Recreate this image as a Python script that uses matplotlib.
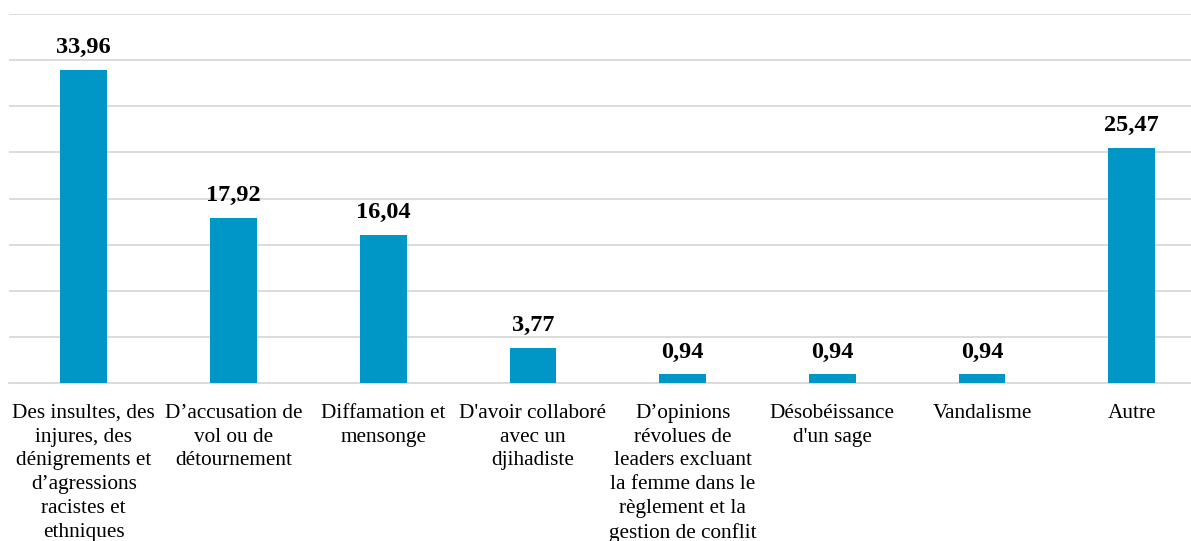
import matplotlib
matplotlib.use("Agg")
import matplotlib.pyplot as plt

categories = [
    "Des insultes, des\ninjures, des\ndénigrements et\nd’agressions\nracistes et\nethniques",
    "D’accusation de\nvol ou de\ndétournement",
    "Diffamation et\nmensonge",
    "D'avoir collaboré\navec un\ndjihadiste",
    "D’opinions\nrévolues de\nleaders excluant\nla femme dans le\nrèglement et la\ngestion de conflit",
    "Désobéissance\nd'un sage",
    "Vandalisme",
    "Autre",
]
values = [33.96, 17.92, 16.04, 3.77, 0.94, 0.94, 0.94, 25.47]
value_labels = ["33,96", "17,92", "16,04", "3,77", "0,94", "0,94", "0,94", "25,47"]

plt.rcParams['font.family'] = ['Liberation Serif', 'DejaVu Serif']

fig = plt.figure(figsize=(11.91, 5.41), dpi=100)
ax = fig.add_axes([8.95 / 1191, 0.292, 1197.6 / 1191, 0.682])

x = list(range(len(categories)))
ax.bar(x, values, width=0.312, color='#0096C6', zorder=3)
for xi, v, lab in zip(x, values, value_labels):
    ax.annotate(lab, (xi, v), xytext=(0, 8.5), textcoords='offset points',
                ha='center', va='bottom', fontsize=17.5, fontweight='bold', color='black')

ax.set_xlim(-0.5, 7.5)
ax.set_ylim(0, 40)
ax.set_yticks(range(0, 41, 5))
ax.yaxis.grid(True, color='#D9D9D9', linewidth=1.3, zorder=0)
ax.tick_params(axis='y', left=False, labelleft=False)
ax.set_xticks(x)
ax.set_xticklabels(categories, fontsize=15.3, linespacing=1.34)
ax.tick_params(axis='x', length=0, pad=15)
for s in ['top', 'right', 'left']:
    ax.spines[s].set_visible(False)
ax.spines['bottom'].set_color('#D9D9D9')
ax.spines['bottom'].set_linewidth(1.3)

fig.savefig('out.png', dpi=100)
